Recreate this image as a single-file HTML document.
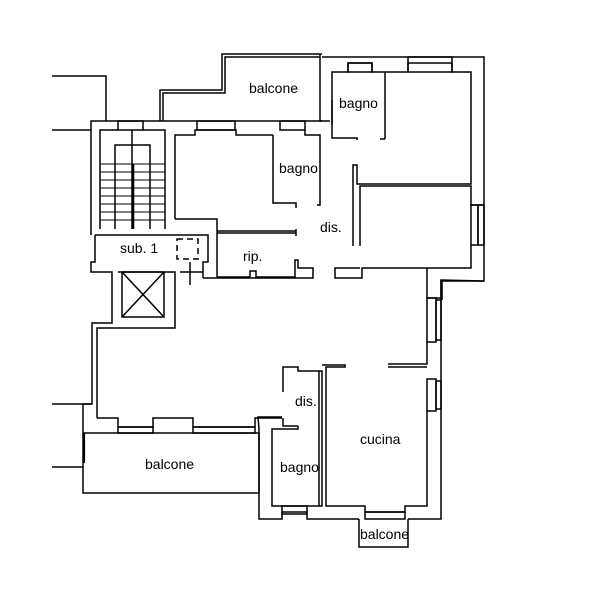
<!DOCTYPE html>
<html><head><style>body{margin:0;background:#fff}svg{display:block}text{font-family:"Liberation Sans",sans-serif;font-size:14px;fill:#000}</style></head><body>
<svg width="600" height="600" viewBox="0 0 600 600" fill="none" stroke="#000" stroke-width="1.5">
<polyline points="52,76 106,76 106,121"/>
<line x1="52" y1="130" x2="91" y2="130"/>
<line x1="52" y1="404" x2="83" y2="404"/>
<line x1="52" y1="467" x2="83" y2="467"/>
<polyline points="160,121 160,90 222,90 222,54 322,54"/>
<polyline points="163,121 163,93 225,93 225,57 320,57"/>
<polyline points="320,54 320,121 322,121"/>
<polyline points="91,235 91,121 330,121"/>
<polyline points="100,229 100,130 118,130"/>
<rect x="118" y="121" width="25" height="9"/>
<polyline points="143,130 165,130 165,229"/>
<polyline points="175,219 175,135 195,135 195,130 236,130 236,135 273,135"/>
<rect x="197" y="121" width="38" height="9"/>
<rect x="280" y="121" width="25" height="9"/>
<polyline points="115,229 115,145 150,145 150,229"/>
<line x1="132" y1="130" x2="132" y2="229"/>
<g stroke-width="1">
<line x1="100" y1="164" x2="165" y2="164"/><line x1="100" y1="172" x2="165" y2="172"/><line x1="100" y1="180" x2="165" y2="180"/><line x1="100" y1="188" x2="165" y2="188"/><line x1="100" y1="196" x2="165" y2="196"/><line x1="100" y1="204" x2="165" y2="204"/><line x1="100" y1="212" x2="165" y2="212"/><line x1="100" y1="220" x2="165" y2="220"/>
</g>
<line x1="133" y1="164" x2="133" y2="229" stroke-width="2.5"/>
<polyline points="95,235 208,235 208,262 203,262 203,278"/>
<polyline points="95,235 95,262 91,262 91,272 112,272 112,323 92,323 92,404 83,404"/>
<polyline points="175,219 217,219 217,277"/>
<polyline points="118,272 175,272 175,328 97,328 97,418"/>
<rect x="122" y="272" width="42" height="45"/>
<line x1="122" y1="272" x2="164" y2="317"/><line x1="164" y1="272" x2="122" y2="317"/>
<rect x="177" y="239" width="21" height="20" stroke-dasharray="6,4"/>
<line x1="190" y1="262" x2="190" y2="285"/><line x1="180" y1="272" x2="203" y2="272"/>
<polyline points="217,233 296,233"/><line x1="217" y1="231" x2="296" y2="231"/>
<line x1="296" y1="229" x2="296" y2="236"/>
<polyline points="217,277 250,277 250,271 256,271 256,277 295,277 295,260 298,260 298,268 313,268 313,278 203,278"/>
<polyline points="273,135 273,203 296,203 296,208"/>
<polyline points="305,130 305,135 320,135 320,205 317,205"/>
<polyline points="322,57 484,57 484,281 442,281 442,300"/>
<polyline points="332,125 332,72 348,72 348,63 372,63 372,72 408,72 408,57 452,57 452,72 471,72 471,184 357,184 357,165 353,165 353,246"/>
<rect x="348" y="63" width="24" height="9"/><rect x="408" y="63" width="44" height="9"/>
<polyline points="332,100 332,138 357,138 357,140"/>
<polyline points="385,139 385,72"/>
<polyline points="380,139 385,139"/>
<polyline points="360,246 360,186 471,186 471,205 484,205"/>
<rect x="471" y="205" width="7" height="40"/><rect x="478" y="205" width="6" height="40"/>
<polyline points="471,245 471,268 362,268 362,278 335,278 335,268 360,268"/>
<polyline points="427,268 427,298 441,298 441,280 484,281"/>
<rect x="427" y="298" width="9" height="44"/><rect x="436" y="300" width="5" height="40"/>
<polyline points="427,342 427,364 388,364"/>
<line x1="388" y1="367" x2="427" y2="367"/>
<rect x="427" y="379" width="9" height="32"/><rect x="436" y="381" width="5" height="28"/>
<polyline points="441,280 441,519 408,519"/>
<polyline points="427,411 427,506 405,506 405,512 365,512 365,506 326,506 326,367 345,367 345,365 322,365"/>
<polyline points="359,519 359,547 408,547 408,519"/>
<rect x="365" y="512" width="40" height="7"/>
<polyline points="283,392 283,367 298,367 298,371 322,371 322,506 272,506 272,429 298,429 298,426"/>
<line x1="319" y1="371" x2="319" y2="506"/>
<polyline points="283,418 283,426 298,426"/>
<polyline points="359,519 307,519 307,512 282,512 282,519 259,519 259,429 258,417 282,417"/>
<rect x="282" y="506" width="25" height="8"/>
<polyline points="97,418 118,418 118,427 153,427 153,418 193,418 193,427 255,427 255,418 282,418"/>
<polyline points="92,404 83,404 83,493 259,493 259,433 83,433"/>
<line x1="84" y1="433" x2="84" y2="463" stroke-width="2.2"/>
<rect x="118" y="427" width="35" height="6"/><rect x="193" y="427" width="62" height="6"/>
<g stroke="none">
<text x="249" y="93">balcone</text>
<text x="339" y="108">bagno</text>
<text x="279" y="173">bagno</text>
<text x="320" y="232">dis.</text>
<text x="120" y="253">sub. 1</text>
<text x="243" y="261">rip.</text>
<text x="295" y="406">dis.</text>
<text x="360" y="444">cucina</text>
<text x="280" y="472">bagno</text>
<text x="145" y="469">balcone</text>
<text x="360" y="539">balcone</text>
</g>
</svg>
</body></html>
